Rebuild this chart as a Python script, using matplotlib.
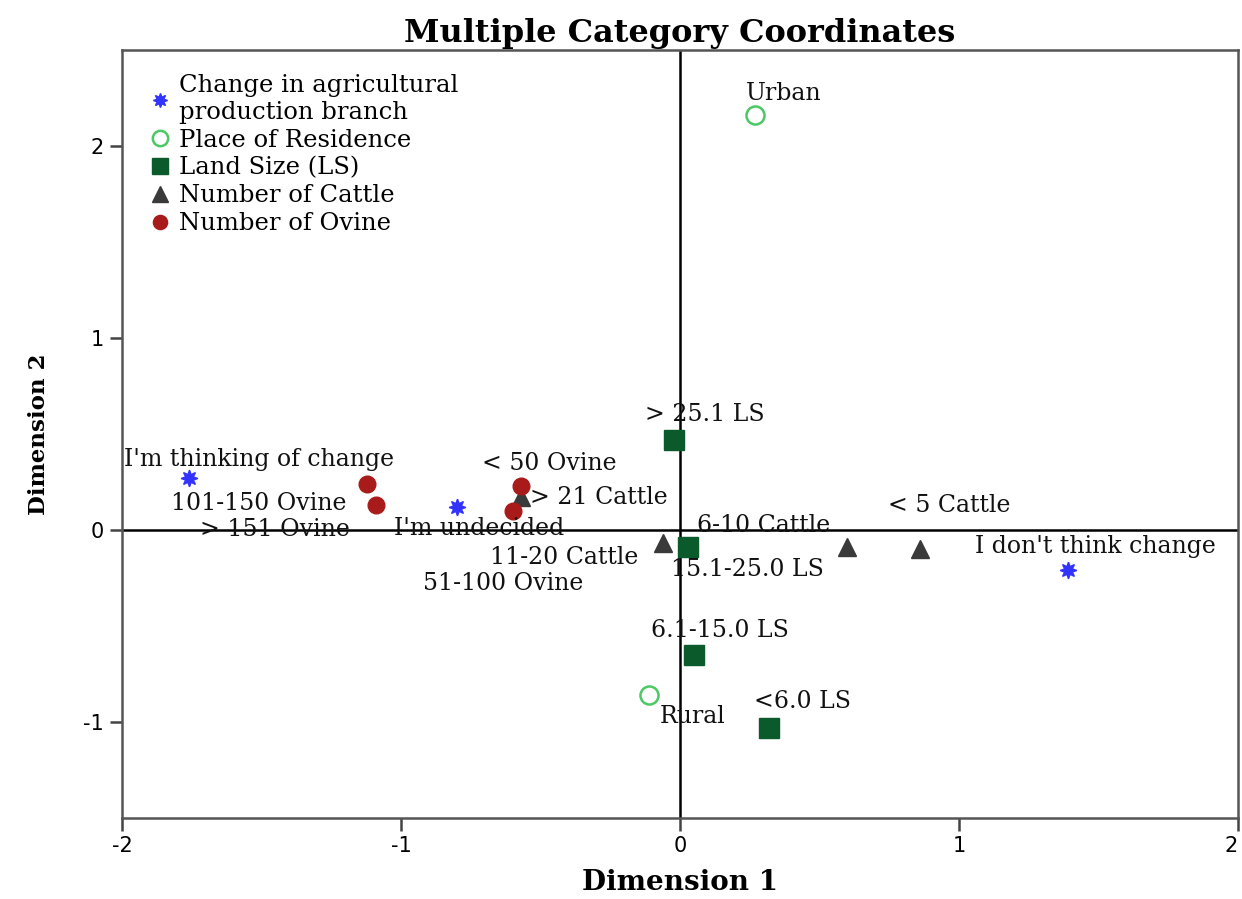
import matplotlib
matplotlib.use("Agg")
import matplotlib.pyplot as plt

plt.rcParams["axes.unicode_minus"] = False

# category points (Dimension 1, Dimension 2)
change_labels = ["I'm thinking of change", "I'm undecided", "I don't think change"]
change_x = [-1.76, -0.80, 1.39]
change_y = [0.27, 0.12, -0.21]

residence_labels = ["Urban", "Rural"]
residence_x = [0.27, -0.11]
residence_y = [2.16, -0.86]

land_labels = ["> 25.1 LS", "15.1-25.0 LS", "6.1-15.0 LS", "<6.0 LS"]
land_x = [-0.02, 0.03, 0.05, 0.32]
land_y = [0.47, -0.09, -0.65, -1.03]

cattle_labels = ["> 21 Cattle", "11-20 Cattle", "6-10 Cattle", "< 5 Cattle"]
cattle_x = [-0.57, -0.06, 0.60, 0.86]
cattle_y = [0.17, -0.07, -0.09, -0.10]

ovine_labels = ["< 50 Ovine", "101-150 Ovine", "> 151 Ovine", "51-100 Ovine"]
ovine_x = [-0.57, -1.09, -1.12, -0.60]
ovine_y = [0.23, 0.13, 0.24, 0.10]

x_ticks = [-2, -1, 0, 1, 2]
y_ticks = [-1, 0, 1, 2]

# label offsets in pixels (left edge, vertical centre) relative to each point
change_off = [(-65, 19), (-63, -22), (-93, 24)]
residence_off = [(-9, 22), (10, -21)]
land_off = [(-29, 25), (-17, -22), (-43, 24), (-15, 26)]
cattle_off = [(9, 0), (-173, -14), (-150, 22), (-32, 44)]
ovine_off = [(-39, 22), (-205, 2), (-167, -46), (-90, -73)]

serif = "DejaVu Serif"
lab_size = 17

fig = plt.figure(figsize=(12.42, 8.99), dpi=100)
ax = fig.add_axes([0.0982, 0.0901, 0.8986, 0.8543])

ax.axhline(0, color="black", lw=1.8, zorder=1)
ax.axvline(0, color="black", lw=1.8, zorder=1)

ax.plot(change_x, change_y, ls="none", marker=(8, 1, 0), ms=12, color="#3333ff",
        mec="#3333ff", label="Change in agricultural\nproduction branch", zorder=3)
ax.plot(residence_x, residence_y, ls="none", marker="o", ms=13, mfc="none",
        mec="#4cc864", mew=1.8, label="Place of Residence", zorder=3)
ax.plot(land_x, land_y, ls="none", marker="s", ms=14, color="#0b5a2c",
        label="Land Size (LS)", zorder=3)
ax.plot(cattle_x, cattle_y, ls="none", marker="^", ms=13, color="#3a3a3a",
        label="Number of Cattle", zorder=3)
ax.plot(ovine_x, ovine_y, ls="none", marker="o", ms=12, color="#a91b1b",
        label="Number of Ovine", zorder=3)

groups = [
    (change_labels, change_x, change_y, change_off),
    (residence_labels, residence_x, residence_y, residence_off),
    (land_labels, land_x, land_y, land_off),
    (cattle_labels, cattle_x, cattle_y, cattle_off),
    (ovine_labels, ovine_x, ovine_y, ovine_off),
]
for labels, xs, ys, offs in groups:
    for lab, x, y, (dx, dy) in zip(labels, xs, ys, offs):
        ax.annotate(lab, (x, y), xytext=(dx, dy), textcoords="offset pixels",
                    ha="left", va="center", fontsize=lab_size, family=serif,
                    color="#111111", zorder=4)

ax.set_xlim(-2, 2)
ax.set_ylim(-1.5, 2.5)
ax.set_xticks(x_ticks)
ax.set_yticks(y_ticks)
ax.tick_params(direction="out", length=9, width=1.8, color="#444444",
               labelsize=15, pad=4)
# keep the last x tick label inside the figure
ax.get_xticklabels()[-1].set_horizontalalignment("right")
for s in ax.spines.values():
    s.set_color("#555555")
    s.set_linewidth(1.8)

ax.set_title("Multiple Category Coordinates", family=serif, fontweight="bold",
             fontsize=23, pad=6)
ax.set_xlabel("Dimension 1", family=serif, fontweight="bold", fontsize=20,
              labelpad=9)
ax.set_ylabel("Dimension 2", family=serif, fontweight="bold", fontsize=16.5,
              labelpad=24)

leg = ax.legend(loc="upper left", frameon=False, prop={"family": serif, "size": 17.5},
                handletextpad=0.25, labelspacing=0.2, borderaxespad=0.6,
                handlelength=1.1, markerscale=0.85)

fig.savefig("out.png", dpi=100)
